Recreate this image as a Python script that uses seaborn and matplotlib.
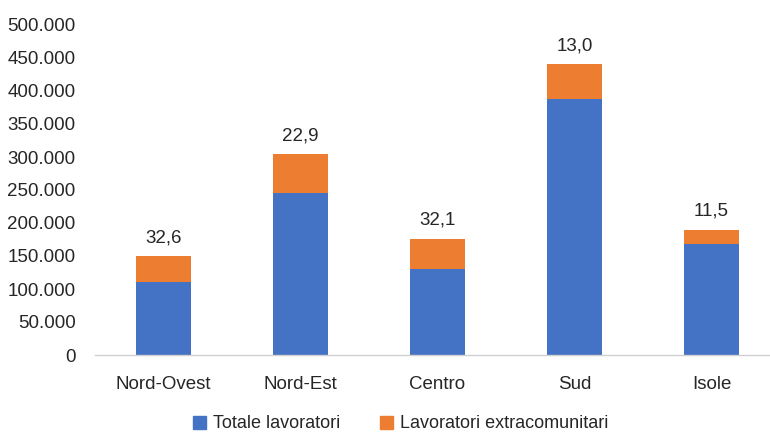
import numpy as np
import pandas as pd
import seaborn as sns
import matplotlib.pyplot as plt
from matplotlib.ticker import FuncFormatter
from matplotlib.patches import Patch

# dati
regioni = ['Nord-Ovest', 'Nord-Est', 'Centro', 'Sud', 'Isole']
totale = [110000, 245000, 131000, 388000, 168000]
extra = [40000, 59000, 45000, 53000, 22000]
perc = [32.6, 22.9, 32.1, 13.0, 11.5]

blu = '#4472C4'
arancio = '#ED7D31'

df = pd.DataFrame({'regione': regioni, 'totale': totale, 'extra': extra})
df['somma'] = df['totale'] + df['extra']

sns.set_style('white')
plt.rcParams['font.family'] = ['Liberation Sans', 'DejaVu Sans']

fig = plt.figure(figsize=(7.7, 4.34), dpi=100)
ax = fig.add_axes([95 / 770, 79 / 434, 685 / 770, 330 / 434])

# barre impilate: prima la somma (arancio), poi il totale (blu) sopra
sns.barplot(data=df, x='regione', y='somma', color=arancio, width=0.4,
            saturation=1, ax=ax, linewidth=0)
sns.barplot(data=df, x='regione', y='totale', color=blu, width=0.4,
            saturation=1, ax=ax, linewidth=0)

for i, (s, p) in enumerate(zip(df['somma'], perc)):
    ax.text(i, s + 15000, f'{p:.1f}'.replace('.', ','), ha='center', va='bottom',
            fontsize=13.5, color='#262626')

ax.set_ylim(0, 500000)
ax.set_xlim(-0.5, 4.5)
ax.set_yticks(np.arange(0, 500001, 50000))
ax.yaxis.set_major_formatter(FuncFormatter(lambda v, _: f'{int(v):,}'.replace(',', '.')))
ax.set_xlabel('')
ax.set_ylabel('')
ax.tick_params(axis='y', labelsize=13.5, length=0, pad=14, labelcolor='#262626')
ax.tick_params(axis='x', labelsize=13.5, length=0, pad=15, labelcolor='#262626')

for lato in ['top', 'right', 'left']:
    ax.spines[lato].set_visible(False)
ax.spines['bottom'].set_color('#d0d0d0')
ax.spines['bottom'].set_linewidth(1)

maniglie = [Patch(color=blu, label='Totale lavoratori'),
            Patch(color=arancio, label='Lavoratori extracomunitari')]
fig.legend(handles=maniglie, loc='center', bbox_to_anchor=(401 / 770, 1 - 424 / 434),
           ncol=2, frameon=False, fontsize=13, handlelength=0.7, handleheight=0.7,
           handletextpad=0.4, columnspacing=2.2, labelcolor='#262626',
           borderpad=0.2)

fig.savefig('out.png', dpi=100)
